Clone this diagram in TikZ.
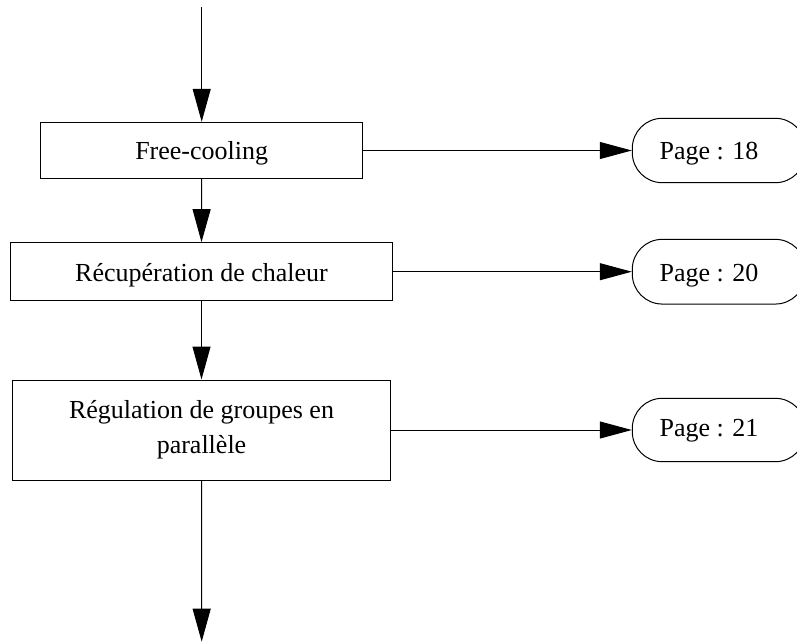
\documentclass[tikz,border=0pt]{standalone}
\usepackage{fontspec}
\setmainfont{Liberation Serif}
\usetikzlibrary{arrows.meta}
\begin{document}
\begin{tikzpicture}[x=1pt,y=-1pt,
  every node/.style={font=\fontsize{26}{35}\selectfont},
  procbox/.style={draw, line width=1pt, rectangle, inner sep=0pt, align=center},
  pagebox/.style={draw, line width=1pt, rectangle, rounded corners=30pt, inner sep=0pt, minimum width=173pt},
  pagetext/.style={anchor=base, inner sep=0pt},
  conn/.style={line width=1pt, -{Triangle[length=33pt,width=18pt]}},
  hconn/.style={line width=1pt, -{Triangle[length=32pt,width=17pt]}}]
\useasboundingbox (0,0) rectangle (797,642);
\coordinate (top) at (201.7,7);
\coordinate (bot) at (201.7,641.7);
\node[procbox, minimum width=322pt, text height=37pt, text depth=19.4pt] (b1) at (201.7,150.5) {Free-cooling};
\node[procbox, minimum width=382.7pt, text height=38.3pt, text depth=19.7pt] (b2) at (201.5,271.7) {Récupération de chaleur};
\node[procbox, minimum width=378.4pt, minimum height=100pt] (b3) at (201.5,430) {Régulation de groupes en\\parallèle};
\node[pagebox, minimum height=64.4pt] (p1) at (718.8,150.5) {};
\node[pagebox, minimum height=64.7pt] (p2) at (718.8,271.7) {};
\node[pagebox, minimum height=63.4pt] (p3) at (718.8,430) {};
\node[pagetext] (t1) at (709,159.3) {Page : 18};
\node[pagetext] (t2) at (709,281.5) {Page : 20};
\node[pagetext] (t3) at (709,436.7) {Page : 21};
\draw[conn] (top) -- (b1.north);
\draw[conn] (b1.south) -- (b2.north);
\draw[conn] (b2.south) -- (b3.north);
\draw[conn] (b3.south) -- (bot);
\draw[hconn] (b1.east) -- (p1.west);
\draw[hconn] (b2.east) -- (p2.west);
\draw[hconn] (b3.east) -- (p3.west);
\end{tikzpicture}
\end{document}
